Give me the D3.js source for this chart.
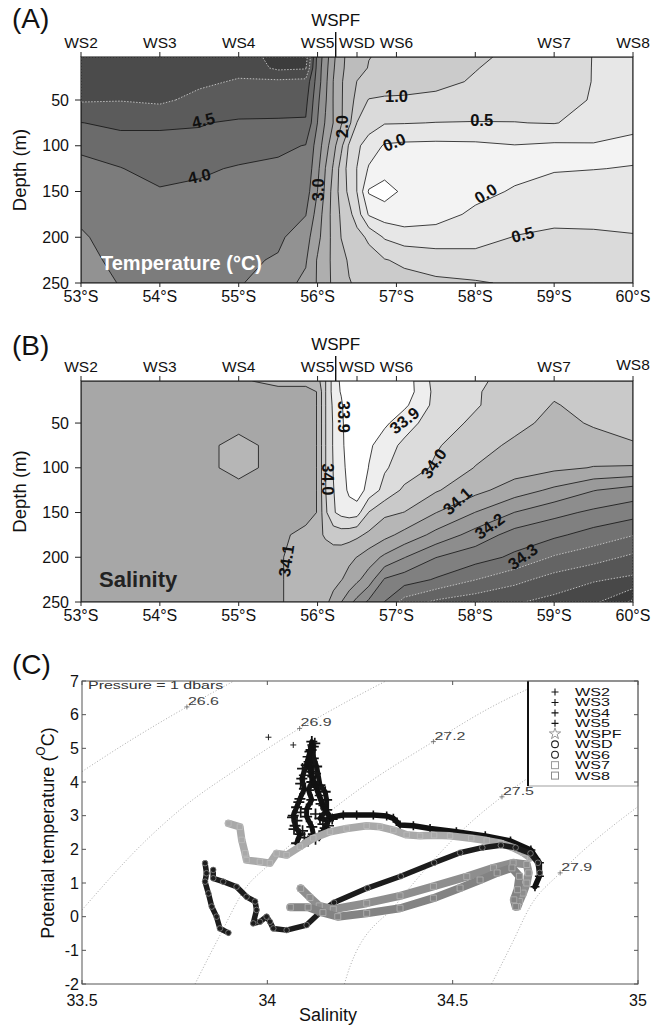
<!DOCTYPE html>
<html><head><meta charset="utf-8">
<script src="https://cdn.jsdelivr.net/npm/d3@7/dist/d3.min.js"></script>
<style>
html,body{margin:0;padding:0;background:#fff;}
svg text{font-family:"Liberation Sans",Arial,Helvetica,sans-serif;}
</style></head><body>
<svg id="chart" width="651" height="1026" xmlns="http://www.w3.org/2000/svg"></svg>
<script>
// ---------------- DATA ----------------
const latCols = [53.0,53.5,54.0,54.5,55.0,55.5,55.85,56.0,56.1,56.2,56.3,56.4,56.5,56.65,56.85,57.1,57.5,58.0,58.5,59.0,59.5,60.0];
const depthRows = [3,15,30,50,75,100,125,150,175,200,225,250];

const tempGrid = [
[5.3,5.3,5.3,5.3,5.2,5.7,5.75,3.83,3.25,2.62,2.1,1.88,1.74,1.51,1.44,1.36,1.24,1.08,0.90,0.70,0.49,0.35],
[5.25,5.25,5.25,5.22,5.15,5.6,5.55,3.78,3.19,2.56,2.09,1.85,1.65,1.48,1.41,1.32,1.19,1.02,0.84,0.67,0.49,0.35],
[5.18,5.18,5.18,5.1,4.95,4.9,4.85,3.75,3.13,2.49,2.05,1.76,1.49,1.44,1.37,1.28,1.13,0.95,0.80,0.65,0.49,0.35],
[5.05,5.02,5.1,4.85,4.75,4.7,4.65,3.61,3.06,2.48,2.05,1.7,1.36,0.97,0.9,0.9,0.88,0.8,0.7,0.6,0.48,0.3],
[4.49,4.6,4.55,4.52,4.45,4.45,4.45,3.49,2.95,2.49,2.05,1.63,0.99,0.75,0.53,0.52,0.49,0.48,0.49,0.52,0.35,0.12],
[4.08,4.3,4.4,4.42,4.25,4.1,3.98,3.28,2.72,2.17,1.61,0.93,0.6,0.26,-0.05,-0.1,-0.12,-0.1,-0.02,-0.08,-0.05,-0.12],
[3.88,3.98,4.2,4.08,3.95,3.9,3.88,3.13,2.49,1.94,1.29,0.81,0.49,-0.05,-0.3,-0.3,-0.25,-0.2,-0.15,-0.03,-0.01,0.02],
[3.75,3.85,3.95,3.9,3.82,3.8,3.75,2.99,2.39,1.81,1.29,0.88,0.49,-0.55,-0.7,-0.4,-0.3,-0.15,0.05,0.15,0.2,0.22],
[3.58,3.75,3.85,3.85,3.72,3.7,3.52,2.78,2.27,1.82,1.42,1.14,0.75,-0.05,-0.25,-0.3,-0.2,0.1,0.25,0.35,0.35,0.35],
[3.45,3.68,3.75,3.75,3.65,3.6,3.2,2.65,2.23,1.86,1.49,1.34,1.19,0.9,0.45,0.25,0.25,0.3,0.52,0.6,0.58,0.53],
[3.38,3.6,3.65,3.68,3.6,3.45,3.05,2.45,2.15,1.9,1.63,1.45,1.36,1.22,1.03,0.9,0.75,0.7,0.72,0.75,0.73,0.7],
[3.3,3.52,3.58,3.6,3.55,3.2,2.9,2.45,2.15,1.92,1.7,1.52,1.45,1.38,1.28,1.18,1.1,1.04,0.95,0.9,0.85,0.8]
];

const salGrid = [
[34.12,34.12,34.12,34.12,34.11,34.08,34.08,34.07,34.002,33.93,33.89,33.85,33.83,33.82,33.83,33.87,33.97,33.99,34.02,34.035,34.03,34.03],
[34.12,34.12,34.12,34.12,34.12,34.12,34.12,34.098,34.002,33.93,33.895,33.84,33.82,33.81,33.82,33.87,33.965,33.995,34.025,34.045,34.035,34.03],
[34.12,34.12,34.12,34.12,34.12,34.12,34.12,34.098,34.002,33.94,33.91,33.85,33.82,33.81,33.83,33.89,33.965,33.995,34.03,34.052,34.04,34.035],
[34.12,34.12,34.12,34.12,34.12,34.12,34.12,34.098,34.002,33.945,33.915,33.86,33.82,33.82,33.89,33.93,33.975,34.01,34.035,34.065,34.045,34.03],
[34.12,34.12,34.12,34.12,34.08,34.12,34.12,34.098,34.002,33.945,33.915,33.87,33.83,33.89,33.93,33.96,33.995,34.03,34.06,34.075,34.07,34.055],
[34.12,34.12,34.12,34.12,34.08,34.12,34.12,34.098,34.002,33.948,33.92,33.88,33.85,33.902,33.945,33.97,34.008,34.052,34.075,34.09,34.102,34.105],
[34.12,34.12,34.12,34.12,34.12,34.12,34.12,34.098,34.002,33.952,33.925,33.89,33.87,33.92,33.965,34.01,34.045,34.085,34.125,34.16,34.198,34.22],
[34.12,34.12,34.12,34.12,34.12,34.12,34.12,34.098,34.01,33.955,33.935,33.925,33.93,34.002,34.04,34.051,34.099,34.151,34.201,34.235,34.26,34.28],
[34.12,34.12,34.12,34.12,34.12,34.112,34.085,34.06,34.045,34.03,34.025,34.03,34.04,34.06,34.085,34.115,34.165,34.22,34.27,34.29,34.32,34.348],
[34.12,34.12,34.12,34.12,34.12,34.105,34.08,34.075,34.07,34.075,34.08,34.09,34.101,34.125,34.16,34.198,34.249,34.278,34.31,34.355,34.38,34.41],
[34.12,34.12,34.12,34.12,34.12,34.105,34.08,34.075,34.075,34.085,34.098,34.115,34.14,34.175,34.255,34.275,34.305,34.349,34.385,34.42,34.445,34.46],
[34.12,34.12,34.12,34.12,34.12,34.105,34.08,34.075,34.09,34.115,34.149,34.185,34.215,34.26,34.301,34.37,34.41,34.43,34.445,34.465,34.49,34.56]
];

const tempLevels = [-0.5,0,0.5,1,1.5,2,2.5,3,3.5,4,4.5,5,5.5];
const tempFills = ["#ffffff","#f3f3f3","#e7e7e7","#dadada","#cbcbcb","#bcbcbc","#aeaeae","#a0a0a0","#929292","#7c7c7c","#6b6b6b","#5b5b5b","#4b4b4b","#3c3c3c"];
const salLevels = [33.9,33.95,34.0,34.05,34.1,34.15,34.2,34.25,34.3,34.35,34.4,34.45,34.5,34.55];
const salFills = ["#ffffff","#eeeeee","#dcdcdc","#c9c9c9","#b6b6b6","#a7a7a7","#9a9a9a","#8d8d8d","#808080","#727272","#646464","#565656","#484848","#3a3a3a","#2a2a2a"];

const stationNames = ["WS2","WS3","WS4","WS5","WSD","WS6","WS7","WS8"];
const stationLats = [53,54,55,56,56.5,57,59,60];
const plainTickLats = [58];
const wspfLat = 56.23;
const latTicks = [53,54,55,56,57,58,59,60];
const depthTicks = [50,100,150,200,250];

const tempLabels = [
  {text:"4.5", lat:54.55, depth:72, angle:-14},
  {text:"4.0", lat:54.5, depth:133, angle:-12},
  {text:"3.0", lat:56.0, depth:148, angle:-90},
  {text:"2.0", lat:56.31, depth:79, angle:-90},
  {text:"1.0", lat:57.0, depth:46, angle:0},
  {text:"0.5", lat:58.08, depth:72, angle:0},
  {text:"0.0", lat:56.97, depth:96, angle:-22},
  {text:"0.0", lat:58.13, depth:152, angle:-32},
  {text:"0.5", lat:58.6, depth:197, angle:-14}
];
const salLabels = [
  {text:"33.9", lat:56.34, depth:43, angle:90},
  {text:"33.9", lat:57.1, depth:47, angle:-38},
  {text:"34.0", lat:56.13, depth:113, angle:90},
  {text:"34.0", lat:57.47, depth:95, angle:-55},
  {text:"34.1", lat:57.77, depth:137, angle:-42},
  {text:"34.2", lat:58.18, depth:165, angle:-36},
  {text:"34.3", lat:58.6, depth:199, angle:-36},
  {text:"34.1", lat:55.6, depth:204, angle:-82}
];

// T-S panel data (salinity, potential temperature)
const sTicks = [33.5,34,34.5,35];
const tTicks = [-2,-1,0,1,2,3,4,5,6,7];
const iso266 = [[33.5,4.31],[33.64,5.3],[33.783,6.23],[33.91,7.0]];
const iso269 = [[33.5,0.2],[33.674,2.28],[33.764,3.17],[33.92,4.4],[34.087,5.59],[34.2,6.3],[34.32,7.0]];
const iso272 = [[33.805,-2],[33.87,-0.6],[33.944,0.89],[33.998,1.48],[34.1,2.5],[34.25,3.8],[34.448,5.2],[34.6,6.2],[34.75,7.0]];
const iso275 = [[34.208,-2],[34.223,-1.48],[34.35,0.4],[34.556,2.87],[34.633,3.56],[34.8,4.8],[35.0,6.0]];
const iso279 = [[34.605,-2],[34.66,-0.8],[34.709,0.3],[34.79,1.3],[35.0,3.27]];
const isoLabels = [
  {text:"26.6", s:33.783, t:6.23},
  {text:"26.9", s:34.087, t:5.59},
  {text:"27.2", s:34.448, t:5.2},
  {text:"27.5", s:34.633, t:3.56},
  {text:"27.9", s:34.79, t:1.3}
];
const ws2Surface = [[34.003,5.33],[34.07,5.10]];
const ws2 = [[34.12,5.2],[34.115,4.9],[34.105,4.5],[34.093,4.1],[34.10,3.8],[34.088,3.5],[34.079,3.25],[34.07,3.0],[34.075,2.7],[34.088,2.45],[34.079,2.18]];
const ws3 = [[34.124,5.05],[34.124,4.7],[34.12,4.3],[34.12,4.0],[34.111,3.76],[34.12,3.47],[34.106,3.2],[34.106,2.97],[34.12,2.67],[34.124,2.45],[34.11,2.25]];
const ws4 = [[34.118,4.95],[34.133,4.46],[34.142,3.91],[34.156,3.71],[34.16,3.47],[34.16,3.17],[34.142,2.92],[34.165,2.85],[34.156,2.63],[34.14,2.4]];
const ws3Scatter = [[34.095,4.4],[34.13,4.25],[34.09,3.95],[34.135,3.85],[34.085,3.4],[34.145,3.35],[34.08,2.85],[34.15,2.75],[34.095,2.55],[34.165,2.7],[34.1,2.35],[34.072,2.6],[34.09,3.1],[34.13,3.05],[34.11,4.75],[34.128,5.15],[34.1,4.2],[34.068,2.95],[34.13,2.3],[34.175,2.9]];
const ws5 = [[34.12,5.1],[34.11,4.6],[34.12,4.16],[34.14,3.6],[34.15,3.3],[34.169,2.95],[34.205,3.02],[34.241,3.02],[34.286,3.02],[34.322,2.99],[34.34,2.92],[34.358,2.72],[34.394,2.70],[34.439,2.62],[34.51,2.52],[34.588,2.40],[34.656,2.25],[34.711,1.98],[34.734,1.6],[34.734,1.2],[34.722,0.89]];
const wspf = [[33.895,2.77],[33.926,2.67],[33.931,2.28],[33.94,1.88],[33.944,1.68],[33.98,1.63],[34.007,1.59],[34.025,1.88],[34.052,1.83],[34.088,2.08],[34.124,2.33],[34.169,2.52],[34.214,2.62],[34.268,2.70],[34.304,2.67],[34.34,2.57],[34.376,2.43],[34.412,2.40],[34.45,2.42],[34.493,2.40],[34.55,2.33],[34.592,2.26],[34.63,2.18],[34.663,2.05],[34.69,1.9],[34.709,1.75]];
const wsd = [[33.832,1.59],[33.836,1.29],[33.832,1.04],[33.841,0.69],[33.85,0.30],[33.863,0.0],[33.872,-0.35],[33.895,-0.48]];
const ws6 = [[33.854,1.39],[33.854,1.14],[33.881,1.04],[33.917,0.89],[33.944,0.59],[33.967,0.45],[33.971,0.20],[33.962,-0.20],[33.98,-0.15],[33.998,0.0],[34.007,-0.15],[34.016,-0.35],[34.052,-0.40],[34.106,-0.25],[34.14,0.1],[34.18,0.42],[34.27,0.85],[34.36,1.2],[34.45,1.6],[34.52,1.9],[34.58,2.05],[34.63,2.12],[34.67,2.05],[34.71,1.88],[34.73,1.6],[34.735,1.3]];
const ws7 = [[34.09,0.84],[34.115,0.57],[34.14,0.32],[34.178,0.22],[34.268,0.40],[34.358,0.62],[34.448,0.9],[34.538,1.19],[34.61,1.45],[34.663,1.6],[34.70,1.55],[34.705,1.3],[34.70,1.0],[34.69,0.7],[34.68,0.45],[34.675,0.3]];
const ws8 = [[34.062,0.28],[34.11,0.28],[34.15,0.12],[34.19,0.0],[34.268,0.10],[34.358,0.25],[34.448,0.55],[34.52,0.85],[34.574,1.09],[34.62,1.3],[34.66,1.45],[34.68,1.2],[34.675,0.8],[34.665,0.5],[34.67,0.3]];

const legendNames = ["WS2","WS3","WS4","WS5","WSPF","WSD","WS6","WS7","WS8"];
const legendSymbols = ["plus","plus","plus","plus","star","circle","circle","square","square"];
const legendColors = ["#111","#111","#111","#111","#8a8a8a","#222","#222","#9c9c9c","#8c8c8c"];

// ---------------- DRAWING ----------------
const svg = d3.select("#chart");
const x = d3.scaleLinear().domain([53,60]).range([81,633]);
const yA = d3.scaleLinear().domain([3,250]).range([57,283]);
const yB = d3.scaleLinear().domain([3,250]).range([381,602]);

function stretch(sel, f){
  sel.each(function(){ const w = this.getComputedTextLength(); d3.select(this).attr("textLength", w*f).attr("lengthAdjust","spacingAndGlyphs"); });
}

function section(y, grid, levels, fills, lightFrom, labels, id, panelLetter, letterY, title) {
  const n = latCols.length, m = depthRows.length;
  const values = grid.flat();
  const ix = d3.scaleLinear().domain(d3.range(n)).range(latCols).clamp(true);
  const iy = d3.scaleLinear().domain(d3.range(m)).range(depthRows).clamp(true);
  const proj = p => [x(ix(p[0]-0.5)), y(iy(p[1]-0.5))];
  const [top, bottom] = y.range();
  const left = x(53), right = x(60);
  svg.append("clipPath").attr("id", id).append("rect").attr("x",left).attr("y",top).attr("width",right-left).attr("height",bottom-top);
  const g = svg.append("g").attr("clip-path", `url(#${id})`);
  g.append("rect").attr("x",left).attr("y",top).attr("width",right-left).attr("height",bottom-top).attr("fill",fills[0]);
  const cs = d3.contours().size([n,m]).thresholds(levels)(values);
  const pathD = mp => mp.coordinates.map(poly => poly.map(ring => "M" + ring.map(p => proj(p).map(v=>v.toFixed(2)).join(",")).join("L") + "Z").join("")).join("");
  cs.forEach((c,i) => {
    const light = c.value >= lightFrom - 1e-9;
    g.append("path").attr("d", pathD(c)).attr("fill", fills[i+1])
      .attr("stroke", light ? "#c8c8c8" : "#111").attr("stroke-width", light ? 0.9 : 0.8)
      .attr("stroke-dasharray", light ? "1.5,1.5" : null).attr("stroke-linejoin","round");
  });
  labels.forEach(l => {
    g.append("text").attr("transform", `translate(${x(l.lat)},${y(l.depth)}) rotate(${l.angle})`)
      .attr("text-anchor","middle").attr("dominant-baseline","central")
      .style("font-weight","bold").style("font-size","16.5px").attr("fill","#111").text(l.text);
  });
  if (title) {
    g.append("text").attr("x", title.x).attr("y", title.y).style("font-weight","bold").style("font-size", title.size+"px")
      .attr("fill", title.color).text(title.text);
  }
  svg.append("rect").attr("x",left).attr("y",top).attr("width",right-left).attr("height",bottom-top)
    .attr("fill","none").attr("stroke","#222").attr("stroke-width",1.1);
  stationLats.concat(plainTickLats).forEach(lat => {
    svg.append("line").attr("x1",x(lat)).attr("x2",x(lat)).attr("y1",top-5).attr("y2",top).attr("stroke","#222").attr("stroke-width",1);
  });
  stationNames.forEach((s,i) => {
    svg.append("text").attr("x", x(stationLats[i])).attr("y", top-9 - (s==="WS8" && id==="clipB" ? 2 : 0))
      .attr("text-anchor","middle").style("font-size","15.5px").attr("fill","#111").text(s);
  });
  svg.append("line").attr("x1",x(wspfLat)).attr("x2",x(wspfLat)).attr("y1",top-25).attr("y2",top).attr("stroke","#111").attr("stroke-width",1.4);
  svg.append("text").attr("x", x(wspfLat)).attr("y", top-31).attr("text-anchor","middle").style("font-size","17px").attr("fill","#111").text("WSPF");
  latTicks.forEach(lat => {
    svg.append("line").attr("x1",x(lat)).attr("x2",x(lat)).attr("y1",bottom).attr("y2",bottom+4).attr("stroke","#222");
    svg.append("text").attr("x",x(lat)).attr("y",bottom+19).attr("text-anchor","middle").style("font-size","16px").attr("fill","#111").text(lat+"°S");
  });
  depthTicks.forEach(d => {
    svg.append("line").attr("x1",left-6).attr("x2",left).attr("y1",y(d)).attr("y2",y(d)).attr("stroke","#222");
    svg.append("text").attr("x",left-12).attr("y",y(d)).attr("text-anchor","end").attr("dominant-baseline","central").style("font-size","16px").attr("fill","#111").text(d);
  });
  svg.append("text").attr("transform", `translate(19,${(top+bottom)/2}) rotate(-90)`).attr("text-anchor","middle")
    .attr("dominant-baseline","central").style("font-size","18.5px").attr("fill","#111").text("Depth (m)");
  svg.append("text").attr("x",12).attr("y",letterY).style("font-size","28px").attr("fill","#111").text(panelLetter);
}

section(yA, tempGrid, tempLevels, tempFills, 5.0, tempLabels, "clipA", "(A)", 28,
  {text:"Temperature (°C)", x:101, y:270, size:20, color:"#fff"});
section(yB, salGrid, salLevels, salFills, 34.35, salLabels, "clipB", "(B)", 355,
  {text:"Salinity", x:99, y:587, size:22, color:"#222"});

// ---------------- PANEL C ----------------
const xs = d3.scaleLinear().domain([33.5,35]).range([82,638]);
const yt = d3.scaleLinear().domain([-2,7]).range([984,681]);
svg.append("clipPath").attr("id","clipC").append("rect").attr("x",82).attr("y",681).attr("width",556).attr("height",303);
const gC = svg.append("g").attr("clip-path","url(#clipC)");

const isoLine = d3.line().x(d=>xs(d[0])).y(d=>yt(d[1])).curve(d3.curveMonotoneX);
[iso266, iso269, iso272, iso275, iso279].forEach(arr => {
  gC.append("path").attr("d", isoLine(arr)).attr("fill","none").attr("stroke","#aaa").attr("stroke-width",1).attr("stroke-dasharray","1,2");
});
isoLabels.forEach(l => {
  const px = xs(l.s), py = yt(l.t);
  gC.append("path").attr("d", `M${px-2.5},${py}H${px+2.5}M${px},${py-2.5}V${py+2.5}`).attr("stroke","#666").attr("stroke-width",0.8);
  gC.append("text").attr("x",px+1).attr("y",py-2).style("font-size","11px").attr("fill","#444").text(l.text).call(stretch,1.45);
});

const tsLine = d3.line().x(d=>xs(d[0])).y(d=>yt(d[1])).curve(d3.curveLinear);
const plusPath = (px,py,s) => `M${px-s},${py}H${px+s}M${px},${py-s}V${py+s}`;
function drawPlus(arr, s, color, w) {
  gC.append("path").attr("d", arr.map(d => plusPath(xs(d[0]), yt(d[1]), s)).join("")).attr("stroke",color).attr("stroke-width",w).attr("fill","none");
}
function drawTrace(arr, color, width) {
  gC.append("path").attr("d", tsLine(arr)).attr("fill","none").attr("stroke",color).attr("stroke-width",width)
    .attr("stroke-linejoin","round").attr("stroke-linecap","round");
}
// WS2-WS5 (plus)
[ws2, ws3, ws4].forEach(a => { drawTrace(a, "#141414", 5); drawPlus(a, 5.5, "#111", 1.8); });
drawPlus(ws3Scatter, 5.5, "#151515", 1.7);
drawTrace(ws5, "#111", 5.5);
drawPlus(ws5, 4.5, "#111", 1.6);
drawPlus(ws2Surface, 3, "#222", 1);
// WSPF (star, light gray)
drawTrace(wspf, "#a9a9a9", 7.5);
gC.selectAll(null).data(wspf).enter().append("path")
  .attr("d", d3.symbol(d3.symbolSquare, 30)).attr("transform", d => `translate(${xs(d[0])},${yt(d[1])})`)
  .attr("fill","#a9a9a9").attr("stroke","#bdbdbd").attr("stroke-width",0.8);
// WSD, WS6 (circles, black)
[wsd, ws6].forEach(a => {
  drawTrace(a, "#1c1c1c", 5.5);
  gC.selectAll(null).data(a).enter().append("circle").attr("cx", d=>xs(d[0])).attr("cy", d=>yt(d[1])).attr("r",2.8)
    .attr("fill","#1c1c1c").attr("stroke","#888").attr("stroke-width",0.8);
});
// WS7, WS8 (squares, gray)
[[ws7,"#8e8e8e"],[ws8,"#838383"]].forEach(([a,c]) => {
  drawTrace(a, c, 8);
  gC.selectAll(null).data(a).enter().append("path")
    .attr("d", d3.symbol(d3.symbolSquare, 36)).attr("transform", d => `translate(${xs(d[0])},${yt(d[1])})`)
    .attr("fill",c).attr("stroke","#b4b4b4").attr("stroke-width",0.8);
});

svg.append("text").attr("x",88).attr("y",689).style("font-size","11px").attr("fill","#333").text("Pressure = 1 dbars").call(stretch,1.45);

// Legend
const lgX = 528, lgY = 681, lgW = 110, lgH = 105;
svg.append("rect").attr("x",lgX).attr("y",lgY).attr("width",lgW).attr("height",lgH).attr("fill","#fff").attr("stroke","#888").attr("stroke-width",0.8);
svg.append("line").attr("x1",lgX).attr("x2",lgX).attr("y1",lgY).attr("y2",lgY+lgH).attr("stroke","#111").attr("stroke-width",2);
legendNames.forEach((nm,i) => {
  const cy = 692 + i*10.45, cx = 555;
  const sym = legendSymbols[i], col = legendColors[i];
  if (sym === "plus") svg.append("path").attr("d", plusPath(cx,cy,3.5)).attr("stroke",col).attr("stroke-width",1.1);
  else if (sym === "star") svg.append("path").attr("d", d3.symbol(d3.symbolStar, 40)).attr("transform",`translate(${cx},${cy})`).attr("fill","none").attr("stroke",col).attr("stroke-width",0.9);
  else if (sym === "circle") svg.append("circle").attr("cx",cx).attr("cy",cy).attr("r",3.4).attr("fill","none").attr("stroke",col).attr("stroke-width",1.1);
  else svg.append("rect").attr("x",cx-3.5).attr("y",cy-3.5).attr("width",7).attr("height",7).attr("fill","none").attr("stroke",col).attr("stroke-width",1);
  svg.append("text").attr("x",575).attr("y",cy+4).style("font-size","11.5px").attr("fill","#111").text(nm).call(stretch,1.4);
});

svg.append("rect").attr("x",82).attr("y",681).attr("width",556).attr("height",303).attr("fill","none").attr("stroke","#555").attr("stroke-width",1);
sTicks.forEach(s => {
  svg.append("line").attr("x1",xs(s)).attr("x2",xs(s)).attr("y1",984).attr("y2",980).attr("stroke","#555");
  svg.append("line").attr("x1",xs(s)).attr("x2",xs(s)).attr("y1",681).attr("y2",685).attr("stroke","#555");
  svg.append("text").attr("x",xs(s)).attr("y",1006).attr("text-anchor","middle").style("font-size","16px").attr("fill","#111").text(s);
});
tTicks.forEach(t => {
  svg.append("line").attr("x1",82).attr("x2",86).attr("y1",yt(t)).attr("y2",yt(t)).attr("stroke","#555");
  svg.append("line").attr("x1",638).attr("x2",634).attr("y1",yt(t)).attr("y2",yt(t)).attr("stroke","#555");
  svg.append("text").attr("x",79).attr("y",yt(t)).attr("text-anchor","end").attr("dominant-baseline","central").style("font-size","16px").attr("fill","#111").text(t);
});
svg.append("text").attr("x",328).attr("y",1021).attr("text-anchor","middle").style("font-size","18px").attr("fill","#111").text("Salinity");
const yl = svg.append("text").attr("transform","translate(48,833) rotate(-90)").attr("text-anchor","middle").attr("dominant-baseline","central").style("font-size","18px").attr("fill","#111");
yl.append("tspan").text("Potential temperature (");
yl.append("tspan").attr("dy",-7).style("font-size","12px").text("O");
yl.append("tspan").attr("dy",7).text("C)");
svg.append("text").attr("x",12).attr("y",674).style("font-size","28px").attr("fill","#111").text("(C)");
</script></body></html>
